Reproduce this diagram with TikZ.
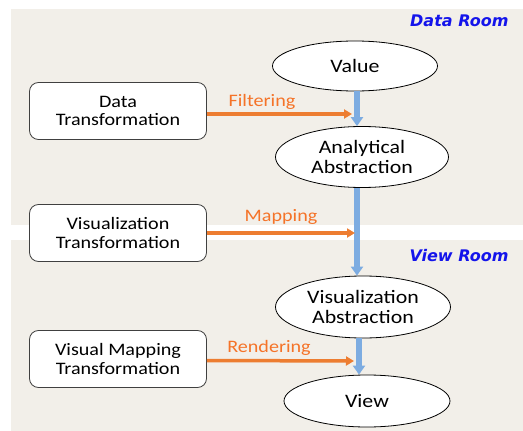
\documentclass[tikz,border=0pt]{standalone}
\usepackage{fontspec}
\setmainfont[FakeStretch=1.15]{Carlito}
\newfontfamily\roomfont{DejaVu Sans}
\usetikzlibrary{arrows.meta,shapes.geometric}

\definecolor{roombg}{RGB}{242,239,233}
\definecolor{roomblue}{RGB}{20,20,235}
\definecolor{oporange}{RGB}{237,125,49}
\definecolor{labelorange}{RGB}{245,115,40}
\definecolor{flowblue}{RGB}{125,172,225}

\tikzset{
  stage/.style={ellipse, draw=black, line width=0.8pt, fill=white, inner sep=0pt,
    align=center, font=\fontsize{19}{20}\selectfont},
  trans/.style={rectangle, rounded corners=9pt, draw=black!75, line width=0.8pt,
    fill=white, minimum width=177pt, minimum height=57pt, align=center,
    font=\fontsize{17.5}{18.5}\selectfont},
  oplabel/.style={text=labelorange, font=\fontsize{17.5}{18.5}\selectfont, anchor=base},
  room/.style={text=roomblue, font=\roomfont\bfseries\itshape\fontsize{16}{18}\selectfont,
    anchor=east},
  opflow/.style={draw=oporange, line width=3.5pt, -{Triangle[length=8pt,width=9pt]}},
  stageflow/.style={draw=flowblue, line width=5.5pt, -{Triangle[length=9pt,width=12pt]}},
}

\begin{document}
\begin{tikzpicture}[x=1pt,y=-1pt]
  \useasboundingbox (0,0) rectangle (523,431);
  % rooms
  \fill[roombg] (11,9) rectangle (523,225);
  \fill[roombg] (11,240) rectangle (523,431);
  \node[room] (dataroom) at (512,21) {Data Room};
  \node[room] (viewroom) at (512,256) {View Room};
  % stages
  \node[stage, minimum width=165pt, minimum height=50pt] (value) at (355,66) {Value};
  \node[stage, minimum width=173pt, minimum height=61pt] (aa) at (362,157) {Analytical\\Abstraction};
  \node[stage, minimum width=175pt, minimum height=62pt] (va) at (363,307) {Visualization\\Abstraction};
  \node[stage, minimum width=166pt, minimum height=52pt] (view) at (367,401) {View};
  % transformations
  \node[trans] (dt) at (118,111) {Data\\Transformation};
  \node[trans] (vt) at (118,233) {Visualization\\Transformation};
  \node[trans] (vmt) at (118,359) {Visual Mapping\\Transformation};
  % stage arrows
  \draw[stageflow] ([xshift=2pt]value.south) -- ([xshift=2pt]value.south |- aa.north);
  \draw[stageflow] ([xshift=-5pt]aa.south) -- ([xshift=-5pt]aa.south |- va.north);
  \draw[stageflow] ([xshift=-4pt]va.south) -- ([xshift=-4pt]va.south |- view.north);
  % operator arrows
  \coordinate (filterend) at (352,114);
  \coordinate (mapend) at (355,233);
  \coordinate (renderend) at (354,361);
  \draw[opflow] ([yshift=-3pt]dt.east) -- (filterend);
  \draw[opflow] (vt.east) -- (mapend);
  \draw[opflow] ([yshift=-1.5pt]vmt.east) -- (renderend);
  \node[oplabel] (filtering) at (262,106) {Filtering};
  \node[oplabel] (mapping) at (281,221) {Mapping};
  \node[oplabel] (rendering) at (269,352) {Rendering};
\end{tikzpicture}
\end{document}
